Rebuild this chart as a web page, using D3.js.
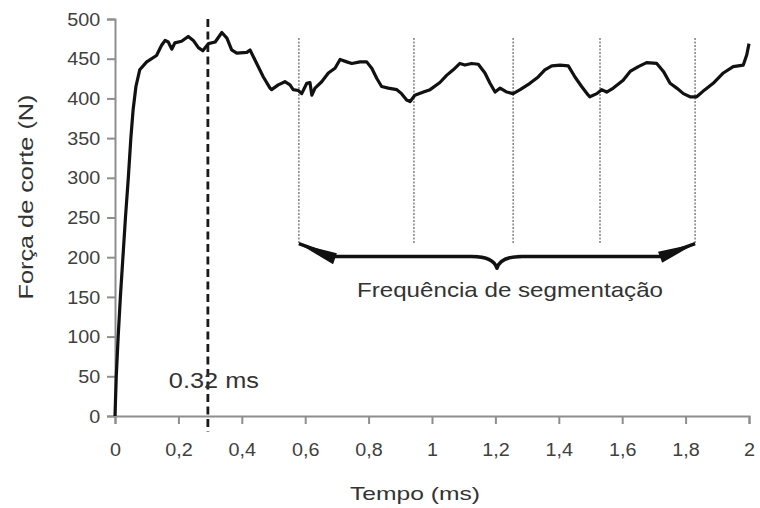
<!DOCTYPE html>
<html>
<head>
<meta charset="utf-8">
<script src="https://cdn.jsdelivr.net/npm/d3@7"></script>
<style>
  body { margin: 0; background: #fff; }
  text { font-family: "Liberation Sans", Arial, sans-serif; }
</style>
</head>
<body>
<svg id="chart" width="760" height="508"></svg>
<script>
// force trace (time in ms, force in N)
const timeMs = [0, 0.004, 0.010, 0.017, 0.025, 0.033, 0.042, 0.050, 0.057, 0.066, 0.078, 0.100, 0.131, 0.147,
	0.158, 0.168, 0.179, 0.189, 0.210, 0.231, 0.247, 0.263, 0.277, 0.295, 0.316, 0.337, 0.353, 0.368, 0.384,
	0.416, 0.426, 0.447, 0.468, 0.489, 0.494, 0.515, 0.536, 0.552, 0.562, 0.578, 0.589, 0.605, 0.615, 0.621,
	0.631, 0.652, 0.673, 0.694, 0.710, 0.731, 0.747, 0.773, 0.794, 0.810, 0.826, 0.841, 0.862, 0.889, 0.904,
	0.920, 0.931, 0.946, 0.973, 0.994, 1.025, 1.046, 1.067, 1.088, 1.104, 1.125, 1.146, 1.167, 1.183, 1.199,
	1.215, 1.236, 1.256, 1.278, 1.309, 1.335, 1.356, 1.378, 1.404, 1.430, 1.451, 1.472, 1.493, 1.498, 1.520,
	1.535, 1.551, 1.572, 1.603, 1.625, 1.651, 1.677, 1.709, 1.730, 1.751, 1.772, 1.793, 1.814, 1.835, 1.861,
	1.887, 1.919, 1.950, 1.982, 1.993, 2.0];
const forceN = [0, 50, 100, 150, 200, 250, 300, 350, 385, 415, 436, 446, 454, 467,
	473, 471, 462, 470, 472, 478, 473, 464, 460, 469, 471, 483, 476, 461, 457,
	458, 461, 444, 427, 413, 411, 417, 421, 417, 411, 410, 406, 419, 420, 404,
	413, 421, 432, 438, 449, 446, 444, 446, 446, 438, 425, 415, 413, 411, 406,
	398, 396, 404, 408, 411, 420, 429, 436, 444, 442, 444, 443, 432, 419, 408,
	413, 408, 406, 411, 419, 427, 436, 441, 442, 441, 427, 415, 404, 402, 406,
	411, 408, 413, 423, 434, 440, 445, 444, 434, 419, 413, 406, 402, 402, 411,
	419, 432, 440, 442, 455, 469];

const xTicks = [0, 0.2, 0.4, 0.6, 0.8, 1, 1.2, 1.4, 1.6, 1.8, 2];
const yTicks = [0, 50, 100, 150, 200, 250, 300, 350, 400, 450, 500];

// annotations
const markerTime = 0.293;          // dashed line labelled 0.32 ms
const markerLabel = "0.32 ms";
const segTimes = [0.580, 0.943, 1.256, 1.530, 1.830];
const segTop = 476, segBottom = 217;
const braceLevel = 201, braceTip = 186, braceMid = 1.205;

const margin = {top: 19, right: 11, bottom: 92, left: 115};
const W = 760, H = 508;
const width = W - margin.left - margin.right;
const height = H - margin.top - margin.bottom;

const svg = d3.select("#chart");
const g = svg.append("g").attr("transform", "translate(" + margin.left + "," + margin.top + ")");

const x = d3.scaleLinear().domain([0, 2]).range([0, width]);
const y = d3.scaleLinear().domain([0, 500]).range([height, 0]);

const axisColor = "#8e8e8e", labelColor = "#404040";
const fmt = d => String(+d.toFixed(1)).replace(".", ",");

// y axis
const gy = g.append("g").call(d3.axisLeft(y).tickValues(yTicks).tickSize(8).tickSizeOuter(8));
gy.selectAll("path, line").attr("stroke", axisColor).attr("stroke-width", 2);
gy.selectAll("text")
	.attr("x", -13).attr("dy", "0.35em")
	.attr("transform", "scale(1.13,1)")
	.style("font-size", "17.5px").style("fill", labelColor);

// x axis
const gx = g.append("g").attr("transform", "translate(0," + height + ")")
	.call(d3.axisBottom(x).tickValues(xTicks).tickFormat(fmt).tickSize(8).tickSizeOuter(8));
gx.selectAll("path, line").attr("stroke", axisColor).attr("stroke-width", 2);
gx.selectAll("text")
	.attr("y", 40).attr("dy", 0)
	.attr("transform", "scale(1.13,1)")
	.style("font-size", "17.5px").style("fill", labelColor);

// axis titles
svg.append("text")
	.attr("transform", "translate(33," + (margin.top + 178) + ")rotate(-90)")
	.attr("text-anchor", "middle")
	.attr("textLength", 205).attr("lengthAdjust", "spacingAndGlyphs")
	.style("font-size", "21px").style("fill", "#333")
	.text("Força de corte (N)");

svg.append("text")
	.attr("x", 415).attr("y", 500)
	.attr("text-anchor", "middle")
	.attr("textLength", 130).attr("lengthAdjust", "spacingAndGlyphs")
	.style("font-size", "19px").style("fill", "#333")
	.text("Tempo (ms)");

// segmentation guides
g.selectAll("line.seg")
	.data(segTimes)
	.join("line")
		.attr("class", "seg")
		.attr("x1", d => x(d)).attr("x2", d => x(d))
		.attr("y1", y(segTop)).attr("y2", y(segBottom))
		.attr("stroke", "#8a8a8a").attr("stroke-width", 1.6)
		.attr("stroke-dasharray", "2,1.5");

// dashed marker
g.append("line")
	.attr("x1", x(markerTime)).attr("x2", x(markerTime))
	.attr("y1", y(500)).attr("y2", y(-20))
	.attr("stroke", "#1a1a1a").attr("stroke-width", 2.8)
	.attr("stroke-dasharray", "8,4.5");

g.append("text")
	.attr("x", x(markerTime) + 6).attr("y", y(35))
	.attr("text-anchor", "middle")
	.attr("textLength", 90).attr("lengthAdjust", "spacingAndGlyphs")
	.style("font-size", "22px").style("fill", "#333")
	.text(markerLabel);

// force curve
const line = d3.line().x(d => x(d[0])).y(d => y(d[1]));
g.append("path")
	.datum(timeMs.map((t, i) => [t, forceN[i]]))
	.attr("fill", "none")
	.attr("stroke", "#111")
	.attr("stroke-width", 3.2)
	.attr("stroke-linejoin", "round")
	.attr("d", line);

// brace with arrow wedges
const first = segTimes[0], last = segTimes[segTimes.length - 1];
const bx = t => x(t), by = v => y(v);
const braceD = "M" + bx(first) + "," + by(segBottom)
	+ "L" + bx(0.690) + "," + by(braceLevel)
	+ "L" + bx(braceMid - 0.08) + "," + by(braceLevel)
	+ "Q" + bx(braceMid - 0.01) + "," + by(braceLevel) + " " + bx(braceMid) + "," + by(braceTip)
	+ "Q" + bx(braceMid + 0.01) + "," + by(braceLevel) + " " + bx(braceMid + 0.08) + "," + by(braceLevel)
	+ "L" + bx(1.720) + "," + by(braceLevel)
	+ "L" + bx(last) + "," + by(segBottom);
g.append("path")
	.attr("fill", "none").attr("stroke", "#111").attr("stroke-width", 3.5)
	.attr("stroke-linejoin", "round")
	.attr("d", braceD);

const wedges = [
	[[first, segBottom], [0.700, 205], [0.688, 191]],
	[[last, segBottom], [1.713, 207], [1.726, 193]]
];
g.selectAll("path.wedge")
	.data(wedges)
	.join("path")
		.attr("class", "wedge")
		.attr("fill", "#111")
		.attr("d", d => "M" + d.map(p => x(p[0]) + "," + y(p[1])).join("L") + "Z");

g.append("text")
	.attr("x", x(braceMid) + 13).attr("y", y(150))
	.attr("text-anchor", "middle")
	.attr("textLength", 306).attr("lengthAdjust", "spacingAndGlyphs")
	.style("font-size", "21px").style("fill", "#333")
	.text("Frequência de segmentação");
</script>
</body>
</html>
